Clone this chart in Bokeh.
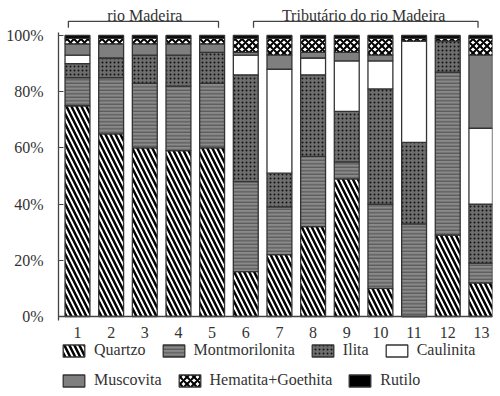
from bokeh.plotting import figure
from bokeh.models import ColumnDataSource, FixedTicker, Legend, LegendItem, Range1d
from bokeh.core.properties import value
from bokeh.embed import file_html
from bokeh.resources import INLINE

# ---- data (percent composition per sample) ----
samples = list(range(1, 14))
quartzo        = [75, 65, 60, 59, 60, 16, 22, 32, 49, 10,  0, 29, 12]
montmorilonita = [10, 20, 23, 23, 23, 32, 17, 25,  6, 30, 33, 58,  7]
ilita          = [ 5,  7, 10, 11, 11, 38, 12, 29, 18, 41, 29, 11, 21]
caulinita      = [ 3,  0,  0,  0,  0,  7, 37,  6, 18, 10, 36,  0, 27]
muscovita      = [ 4,  5,  4,  4,  3,  1,  5,  2,  3,  2,  0,  0, 26]
hematita       = [ 2,  2,  2,  2,  2,  5,  6,  5,  5,  6,  1,  1,  6]
rutilo         = [ 1,  1,  1,  1,  1,  1,  1,  1,  1,  1,  1,  1,  1]

minerals = ["Quartzo", "Montmorilonita", "Ilita", "Caulinita",
            "Muscovita", "Hematita+Goethita", "Rutilo"]
y_ticks = [0, 20, 40, 60, 80, 100]
y_tick_labels = ["0%", "20%", "40%", "60%", "80%", "100%"]
groups = ["rio Madeira", "Tributário do rio Madeira"]
group_first = [1, 6]
group_last = [5, 13]

# ---- styling ----
FONT = "Liberation Serif"
fills   = ["white", "#8a8a8a", "#6e6e6e", "white", "#7f7f7f", "white", "black"]
hatches = ["\\", "-", ".", " ", " ", "x", " "]
hcolors = ["black", "#4a4a4a", "#111111", "black", "black", "black", "black"]
hscales = [10, 3.5, 4, 12, 12, 7, 12]
hweights = [2.5, 1, 2.6, 1, 1, 2, 1]

src = ColumnDataSource(dict(x=samples, Quartzo=quartzo, Montmorilonita=montmorilonita,
                            Ilita=ilita, Caulinita=caulinita, Muscovita=muscovita,
                            **{"Hematita+Goethita": hematita}, Rutilo=rutilo))

p = figure(width=500, height=396, output_backend="svg", toolbar_location=None,
           x_range=Range1d(0.436, 13.33), y_range=Range1d(-28.47, 112.46),
           min_border_left=58, min_border_right=8, min_border_top=0, min_border_bottom=0)
p.outline_line_color = None
p.grid.grid_line_color = None
p.background_fill_color = "white"
p.border_fill_color = "white"

rs = p.vbar_stack(minerals, x="x", width=0.74, source=src,
                  fill_color=fills, hatch_pattern=hatches, hatch_color=hcolors,
                  hatch_scale=hscales, hatch_weight=hweights,
                  line_color="#333333", line_width=1.3)

# group brackets and labels
bx0 = [0.73, 6.23]
bx1 = [5.19, 12.9]
p.multi_line(xs=[[a, a, b, b] for a, b in zip(bx0, bx1)],
             ys=[[102.8, 105.0, 105.0, 102.8]] * 2,
             line_color="#444444", line_width=1.3)
p.text(x=[(a + b) / 2 for a, b in zip(group_first, group_last)], y=[107.1, 107.1], text=groups,
       text_align="center", text_baseline="alphabetic", text_font=value(FONT),
       text_font_size="16px", text_color="#333333")

# axes
p.yaxis.ticker = FixedTicker(ticks=y_ticks)
p.yaxis.major_label_overrides = dict(zip(y_ticks, y_tick_labels))
p.yaxis.bounds = (-1.4, 101.2)
p.yaxis.major_tick_in = 5
p.yaxis.major_tick_out = 0
p.yaxis.minor_tick_line_color = None
p.yaxis.major_label_standoff = 15
p.xaxis.fixed_location = 0
p.xaxis.ticker = FixedTicker(ticks=samples)
p.xaxis.major_tick_in = 0
p.xaxis.major_tick_out = 0
p.xaxis.minor_tick_line_color = None
p.xaxis.major_label_standoff = 10
for ax in (p.xaxis, p.yaxis):
    ax.axis_line_color = "#444444"
    ax.axis_line_width = 1.3
    ax.major_tick_line_color = "#444444"
    ax.major_label_text_font = FONT
    ax.major_label_text_font_size = "16px"
    ax.major_label_text_color = "#333333"

def make_legend(idx, loc):
    return Legend(items=[LegendItem(label=minerals[i], renderers=[rs[i]]) for i in idx],
                  location=loc, orientation="horizontal", padding=0, margin=0,
                  spacing=14, label_standoff=7, glyph_width=27, glyph_height=15,
                  label_text_font=FONT, label_text_font_size="16px",
                  label_text_color="#333333", border_line_color=None,
                  background_fill_alpha=0)

p.add_layout(make_legend([0, 1, 2, 3], (2, 37)))
p.add_layout(make_legend([4, 5, 6], (2, 7)))

open("out.html", "w").write(file_html(p, INLINE))
